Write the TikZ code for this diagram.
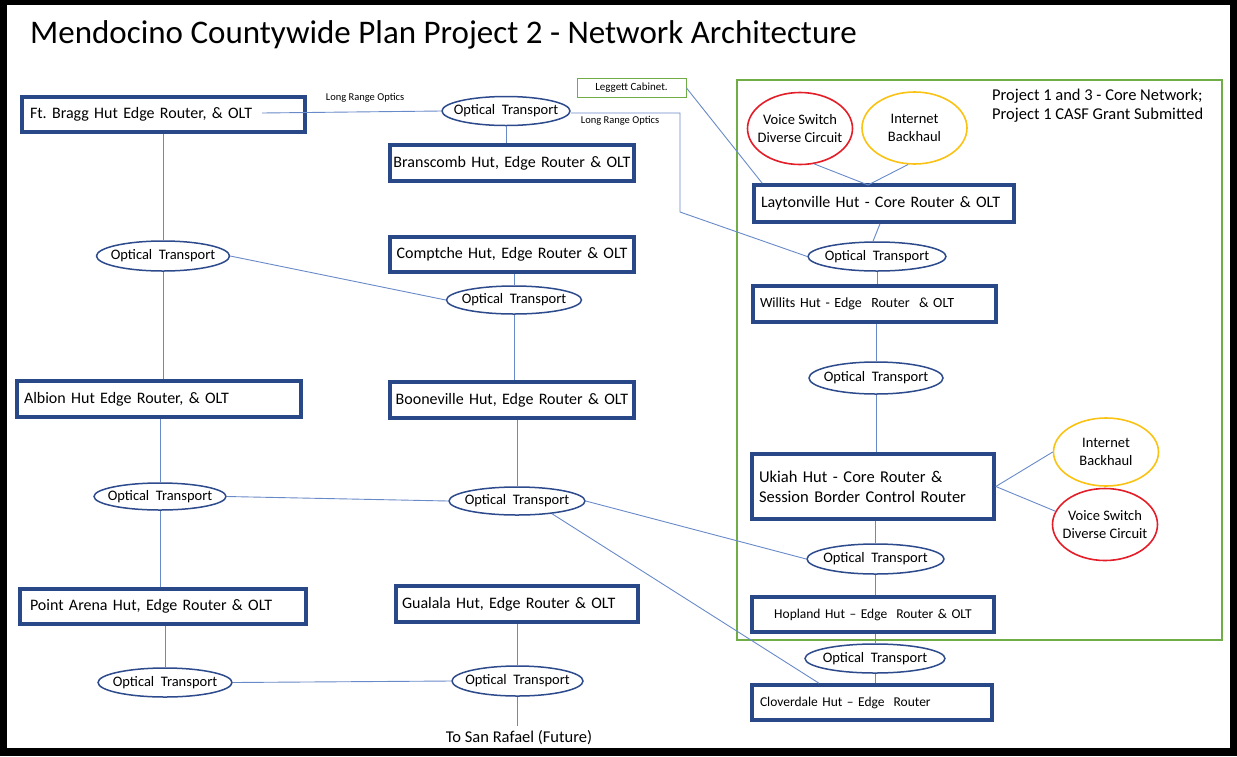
\documentclass[tikz,border=0pt]{standalone}
\usepackage{fontspec}
\setmainfont{Carlito}
\usetikzlibrary{shapes.geometric}
\definecolor{boxblue}{RGB}{40,72,135}
\definecolor{ellblue}{RGB}{45,75,140}
\definecolor{lineblue}{RGB}{105,138,200}
\definecolor{frgreen}{RGB}{112,173,71}
\definecolor{cred}{RGB}{228,30,40}
\definecolor{cyel}{RGB}{250,195,20}
\newcommand{\fs}[1]{\fontsize{#1}{\fpeval{#1*1.2}}\selectfont}
\frenchspacing
\tikzset{
  hut/.style={draw=boxblue, line width=3.6pt, rectangle, inner ysep=0pt, font=\fs{16}},
  hutsm/.style={hut, font=\fs{14}},
  ot/.style={draw=ellblue, line width=1.5pt, ellipse, inner sep=0pt,
    label={[font=\fs{14.5}, inner sep=0pt]center:Optical\ \ Transport}},
  circ/.style={ellipse, line width=1.6pt, inner sep=0pt, minimum width=105pt, minimum height=72pt},
  circlab/.style={align=center, inner sep=0pt, font=\fs{14.5}},
  conn/.style={draw=lineblue, line width=0.9pt},
  small/.style={font=\fs{10.5}, inner sep=0pt}
}
\begin{document}
\begin{tikzpicture}[x=1pt,y=-1pt]
\useasboundingbox (0,0) rectangle (1237,756);
\fill[black] (0,0) rectangle (1237,756);
\fill[white] (7,5) rectangle (1230,748);

% title
\node[anchor=west, inner sep=0pt, font=\fs{33}] (title) at (30,35) {Mendocino Countywide Plan Project 2 - Network Architecture};

% green frame
\node[draw=frgreen, line width=1.2pt, minimum width=485pt, minimum height=560pt, inner sep=0pt] (core) at (979.5,360) {};
\node[anchor=west, inner sep=0pt, align=left, font=\fs{16.5}] (coretxt) at (992,106) {Project 1 and 3 - Core Network;\\[-0.5pt]Project 1 CASF Grant Submitted};

% Leggett cabinet
\node[draw=frgreen, line width=1pt, minimum width=109pt, minimum height=19pt, inner sep=0pt, font=\fs{11}] (leggett) at (631.5,88) {Leggett Cabinet.};

% huts
\node[hut, minimum width=283pt, minimum height=35pt, text width=267pt, inner xsep=8pt, align=left] (ftbragg) at (163.5,114.5) {Ft. Bragg Hut Edge Router, \& OLT};
\node[hut, minimum width=244pt, minimum height=36pt, text width=240pt, inner xsep=2pt, align=center] (branscomb) at (512,163) {Branscomb Hut, Edge Router \& OLT};
\node[hut, minimum width=244pt, minimum height=35pt, text width=240pt, inner xsep=2pt, align=center] (comptche) at (512,254.5) {Comptche Hut, Edge Router \& OLT};
\node[hut, minimum width=284pt, minimum height=36pt, text width=270pt, inner xsep=7pt, align=left] (albion) at (159,399) {Albion Hut Edge Router, \& OLT};
\node[hut, minimum width=244pt, minimum height=36pt, text width=240pt, inner xsep=2pt, align=center] (booneville) at (512,400) {Booneville Hut, Edge Router \& OLT};
\node[hut, minimum width=286pt, minimum height=35pt, text width=266pt, inner xsep=10pt, align=left] (pointarena) at (163,606.5) {Point Arena Hut, Edge Router \& OLT};
\node[hut, minimum width=242pt, minimum height=36pt, text width=230pt, inner xsep=6pt, align=left] (gualala) at (517,604) {Gualala Hut, Edge Router \& OLT};
\node[hut, minimum width=260pt, minimum height=37pt, text width=246pt, inner xsep=7pt, align=left] (laytonville) at (884,203.5) {Laytonville Hut - Core Router \& OLT};
\node[hutsm, minimum width=243pt, minimum height=36pt, text width=229pt, inner xsep=7pt, align=left] (willits) at (874.5,304) {Willits Hut - Edge\ \ Router\ \ \& OLT};
\node[hut, font=\fs{16.5}, minimum width=242pt, minimum height=65pt, text width=228pt, inner xsep=7pt, align=left] (ukiah) at (873,486.5) {Ukiah Hut - Core Router \&\\Session Border Control Router};
\node[hutsm, font=\fs{13.5}, minimum width=242pt, minimum height=35pt, text width=230pt, inner xsep=6pt, align=center] (hopland) at (873,614.5) {Hopland Hut -- Edge\ \ Router \& OLT};
\node[hutsm, font=\fs{13.5}, minimum width=240pt, minimum height=35pt, text width=224pt, inner xsep=8pt, align=left] (cloverdale) at (872,702.5) {Cloverdale Hut -- Edge\ \ Router};

% optical transport ellipses
\node[ot, minimum width=128pt, minimum height=29pt] (ot1) at (506,111) {};
\node[ot, minimum width=133pt, minimum height=30pt] (otl1) at (163,256) {};
\node[ot, minimum width=135pt, minimum height=28pt] (otm2) at (514,300) {};
\node[ot, minimum width=132pt, minimum height=27pt] (otl3) at (160,496.5) {};
\node[ot, minimum width=136pt, minimum height=28pt] (otm3) at (517,501) {};
\node[ot, minimum width=134pt, minimum height=29pt] (otl4) at (165,682.5) {};
\node[ot, minimum width=131pt, minimum height=30pt] (otm4) at (517.5,681) {};
\node[ot, minimum width=138pt, minimum height=29pt] (otr1) at (877,256.5) {};
\node[ot, minimum width=134pt, minimum height=32pt] (otr2) at (876,378) {};
\node[ot, minimum width=137pt, minimum height=30pt] (otr3) at (875.5,559) {};
\node[ot, minimum width=140pt, minimum height=29pt] (otr4) at (875,658.5) {};

% red / yellow
\node[circ, draw=cred, label={[circlab]center:Voice Switch\\Diverse Circuit}] (voice1) at (800,128.5) {};
\node[circ, draw=cyel, label={[circlab]center:Internet\\Backhaul}] (inet1) at (914.5,128) {};
\node[circ, draw=cyel, minimum height=68pt, label={[circlab]center:Internet\\Backhaul}] (inet2) at (1106,452) {};
\node[circ, draw=cred, label={[circlab]center:Voice Switch\\Diverse Circuit}] (voice2) at (1105,524.5) {};

% labels
\node[small] (lro1) at (365,98) {Long Range Optics};
\node[small] (lro2) at (620,121) {Long Range Optics};
\node[inner sep=0pt, font=\fs{16.5}] (sanrafael) at (519,738) {To San Rafael (Future)};

% coordinates
\coordinate (fbin) at (262,113);
\coordinate (bend1) at (680,113);
\coordinate (bend2) at (680,212);
\coordinate (laytop) at (868,185);
\coordinate (sr) at (517.5,726);

% connectors
\draw[conn] (fbin) -- (ot1.west);
\draw[conn] (ot1.south) -- (ot1.south |- branscomb.north);
\draw[conn] (ot1.east |- bend1) -- (bend1) -- (bend2) -- (otr1.west);
\draw[conn] (leggett.east) -- ([xshift=10pt]laytonville.north west);
\draw[conn] (voice1.-68) -- (laytop);
\draw[conn] (inet1.-100) -- (laytop);
\draw[conn] ([xshift=-4pt]laytonville.south) -- ([xshift=-4pt]otr1.north);
\draw[conn] (otr1.south) -- (otr1.south |- willits.north);
\draw[conn] (otr2.north |- willits.south) -- (otr2.north);
\draw[conn] (otr2.south) -- (otr2.south |- ukiah.north);
\draw[conn] (ukiah.east) -- (inet2.west);
\draw[conn] (ukiah.east) -- (voice2.165);
\draw[conn] (otr3.north |- ukiah.south) -- (otr3.north);
\draw[conn] (otr3.south) -- (otr3.south |- hopland.north);
\draw[conn] (otr4.north |- hopland.south) -- (otr4.north);
\draw[conn] (otr4.south) -- (otr4.south |- cloverdale.north);
\draw[conn] (otm3.east) -- (otr3.west);
\draw[conn] (otm3.-20) -- (cloverdale.160);
\draw[conn] (otl1.north |- ftbragg.south) -- (otl1.north);
\draw[conn] (otl1.east) -- (otm2.west);
\draw[conn] (otm2.north |- comptche.south) -- (otm2.north);
\draw[conn] (otm2.south) -- (otm2.south |- booneville.north);
\draw[conn] (otl1.south) -- (otl1.south |- albion.north);
\draw[conn] (otl3.north |- albion.south) -- (otl3.north);
\draw[conn] (otm3.north |- booneville.south) -- (otm3.north);
\draw[conn] (otl3.east) -- (otm3.west);
\draw[conn] (otl3.south) -- (otl3.south |- pointarena.north);
\draw[conn] (otl4.north |- pointarena.south) -- (otl4.north);
\draw[conn] (otl4.east) -- (otm4.west);
\draw[conn] (otm4.north |- gualala.south) -- (otm4.north);
\draw[conn] (otm4.south) -- (sr);
\end{tikzpicture}
\end{document}
